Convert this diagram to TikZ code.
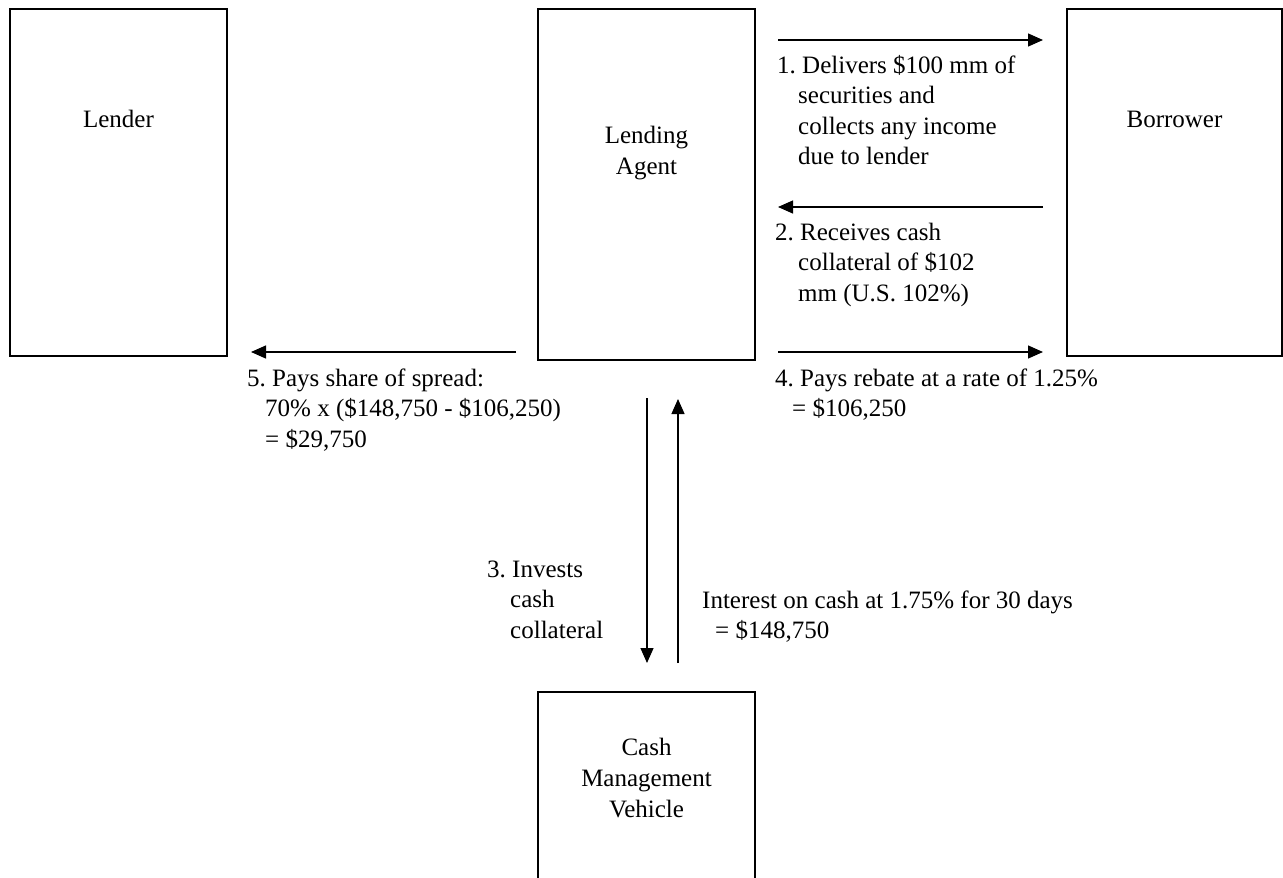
\documentclass[tikz,border=0pt]{standalone}
\usepackage{fontspec}
\setmainfont{Liberation Serif}
\usetikzlibrary{arrows.meta}
\frenchspacing
\newcommand{\lines}[2]{\begin{tabular}[t]{@{}#1@{}}#2\end{tabular}}
\begin{document}
\begin{tikzpicture}[x=1pt,y=-1pt,
  box/.style={draw=black,line width=1.4pt,rectangle,inner sep=0pt},
  lbl/.style={anchor=base west,inner sep=0pt,font=\fontsize{25}{30.5}\selectfont},
  ttl/.style={anchor=base,inner sep=0pt,font=\fontsize{25}{31}\selectfont},
  flow/.style={line width=1.3pt,-{Triangle[length=15pt,width=13pt]}}]
\useasboundingbox (0,0) rectangle (1283,878);
\clip (0,0) rectangle (1283,878);
% boxes
\node[box,minimum width=217pt,minimum height=347pt] (lender) at (118.5,182.5) {};
\node[box,minimum width=217pt,minimum height=351pt] (agent) at (646.5,184.5) {};
\node[box,minimum width=215pt,minimum height=347pt] (borrower) at (1174.5,182.5) {};
\node[box,minimum width=217pt,minimum height=210pt] (cmv) at (646.5,797) {};
% titles
\node[ttl] (lendert) at (118.5,127) {Lender};
\node[ttl] (agentt) at (646.5,143) {\lines{c}{Lending\\Agent}};
\node[ttl] (borrowert) at (1174.5,127) {Borrower};
\node[ttl] (cmvt) at (646.5,755) {\lines{c}{Cash\\Management\\Vehicle}};
% arrow end points
\coordinate (a1s) at (778,40);  \coordinate (a1e) at (1043,40);
\coordinate (a2s) at (1043,207); \coordinate (a2e) at (778,207);
\coordinate (a4s) at (778,352); \coordinate (a4e) at (1043,352);
\coordinate (a5s) at (516,352); \coordinate (a5e) at (251,352);
\coordinate (a3s) at (647,398); \coordinate (a3e) at (647,663);
\coordinate (a6s) at (678,663); \coordinate (a6e) at (678,399);
\draw[flow] (a1s) -- (a1e);
\draw[flow] (a2s) -- (a2e);
\draw[flow] (a4s) -- (a4e);
\draw[flow] (a5s) -- (a5e);
\draw[flow] (a3s) -- (a3e);
\draw[flow] (a6s) -- (a6e);
% labels
\node[lbl] (l1) at (777,73) {\lines{l}{1. Delivers \$100 mm of\\\hspace*{21pt}securities and\\\hspace*{21pt}collects any income\\\hspace*{21pt}due to lender}};
\node[lbl] (l2) at (775,240) {\lines{l}{2. Receives cash\\\hspace*{23pt}collateral of \$102\\\hspace*{23pt}mm (U.S. 102\%)}};
\node[lbl] (l4) at (775,386) {\lines{l}{4. Pays rebate at a rate of 1.25\%\\\hspace*{17pt}= \$106,250}};
\node[lbl] (l5) at (247,386) {\lines{l}{5. Pays share of spread:\\\hspace*{18pt}70\% x (\$148,750 - \$106,250)\\\hspace*{18pt}= \$29,750}};
\node[lbl] (l3) at (487,577) {\lines{l}{3. Invests\\\hspace*{23pt}cash\\\hspace*{23pt}collateral}};
\node[lbl] (l6) at (702,608) {\lines{l}{Interest on cash at 1.75\% for 30 days\\\hspace*{13pt}= \$148,750}};
\end{tikzpicture}
\end{document}
